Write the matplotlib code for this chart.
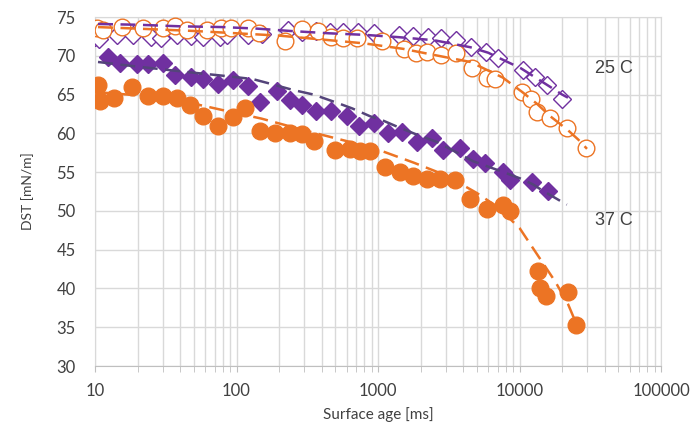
import matplotlib.pyplot as plt
import numpy as np
from matplotlib.ticker import LogLocator, FixedLocator, NullFormatter

# 25 C, open diamonds (purple)
age_d25 = [10.0, 10.7, 14.3, 18.6, 24.9, 29.3, 37.9, 47.7, 58.0, 76.3, 85.9, 120.6, 151,
           231, 290, 365, 456, 566, 720, 937, 1410, 1770, 2260, 2786, 3560, 4560,
           5810, 7070, 10600, 12900, 15700, 20100]
dst_d25 = [72.4, 72.2, 72.7, 72.7, 72.4, 72.3, 72.7, 72.6, 72.4, 72.4, 72.7, 72.7, 72.8,
           73.3, 73.1, 73.2, 73.1, 73.1, 73.1, 72.9, 72.7, 72.6, 72.4, 72.3, 72.0, 71.1,
           70.5, 69.7, 68.2, 67.3, 66.2, 64.4]
fit_age_d25 = [10.5, 20, 40, 80, 140, 240, 450, 800, 1400, 2500, 4500, 6000, 7600,
               10200, 14600, 17800, 20000, 22000]
fit_dst_d25 = [74.1, 74.0, 73.8, 73.7, 73.5, 73.2, 72.9, 72.7, 72.4, 72.0, 71.1, 70.4,
               69.5, 68.4, 66.6, 65.6, 65.0, 64.6]

# 25 C, open circles (orange)
age_c25 = [10.3, 11.4, 15.5, 21.8, 30.2, 36.8, 44.7, 61.8, 77.7, 91.3, 120.6, 144, 220,
           290, 375, 464, 566, 711, 1066, 1523, 1853, 2218, 2786, 3560, 4640, 5930,
           6750, 10470, 12100, 13340, 16470, 21700, 29500]
dst_c25 = [73.6, 73.3, 73.7, 73.6, 73.6, 73.8, 73.3, 73.3, 73.6, 73.6, 73.6, 72.9, 71.9,
           73.5, 73.2, 72.4, 72.3, 72.3, 71.9, 70.9, 70.4, 70.5, 70.1, 70.4, 68.4, 67.1,
           67.0, 65.3, 64.4, 62.7, 62.0, 60.7, 58.1]
fit_age_c25 = [10.5, 20, 50, 100, 200, 400, 800, 1500, 2500, 4500, 7600, 10500, 13300,
               16500, 21700, 26000, 30000]
fit_dst_c25 = [73.7, 73.5, 73.2, 72.9, 72.6, 72.1, 71.6, 70.9, 70.1, 69.2, 67.2, 65.3,
               63.8, 62.2, 60.5, 59.2, 58.0]

# 37 C, filled diamonds (purple)
age_d37 = [12.4, 15.0, 19.8, 23.7, 30.2, 36.8, 47.7, 58.0, 74.0, 94.5, 120.6, 146.6, 193,
           239, 290, 365, 465, 604, 734, 937, 1177, 1478, 1886, 2408, 2880, 3797, 4693,
           5705, 7645, 8570, 12250, 15900]
dst_d37 = [69.8, 69.1, 68.9, 68.9, 69.1, 67.5, 67.3, 67.0, 66.4, 66.9, 66.1, 64.1, 65.5,
           64.3, 63.7, 62.9, 62.9, 62.2, 61.0, 61.3, 60.1, 60.2, 58.9, 59.4, 57.9, 58.1,
           56.7, 56.2, 55.0, 54.0, 53.7, 52.5]
fit_age_d37 = [10.5, 20, 45, 83, 130, 165, 250, 350, 520, 660, 880, 1100, 1350, 1900,
               2600, 4700, 7700, 10400, 12500, 14600, 21600]
fit_dst_d37 = [69.2, 68.6, 67.9, 67.4, 67.0, 66.5, 65.6, 65.0, 63.9, 63.2, 62.2, 61.6,
               60.9, 59.8, 58.9, 56.4, 55.0, 54.1, 53.4, 52.6, 50.8]

# 37 C, filled circles (orange)
age_c37 = [10.5, 10.8, 13.6, 18.3, 23.7, 30.3, 37.9, 46.9, 57.9, 74.2, 94.5, 114.9, 146,
           187, 238, 290, 352, 496, 633, 744, 876, 1114, 1423, 1761, 2218, 2740, 3497,
           4460, 5880, 7630, 8550, 13600, 14000, 15500, 22000, 25100]
dst_c37 = [66.2, 64.2, 64.6, 66.0, 64.8, 64.8, 64.6, 63.7, 62.2, 61.0, 62.1, 63.3, 60.3,
           60.1, 60.1, 59.9, 59.0, 57.9, 58.0, 57.7, 57.7, 55.7, 55.0, 54.5, 54.1, 54.1,
           54.0, 51.5, 50.3, 50.8, 50.0, 42.3, 40.1, 39.0, 39.6, 35.3]
fit_age_c37 = [10.5, 20, 40, 60, 100, 150, 300, 600, 1000, 1800, 3000, 5000, 7000, 10000,
               14000, 18000, 22000, 25000]
fit_dst_c37 = [65.3, 64.9, 64.2, 63.5, 62.6, 61.9, 60.4, 59.0, 57.9, 56.2, 54.6, 52.3,
               50.5, 47.8, 43.8, 40.8, 38.0, 35.6]

purple = '#7030a0'
orange = '#ec7424'
dark_purple = '#54447a'
grid_col = '#d9d9d9'

fig = plt.figure(figsize=(6.94, 4.36), dpi=100)
ax = fig.add_axes([95 / 694, 1 - 366 / 436, 566 / 694, 349 / 436])

ax.plot(age_d25, dst_d25, 'D', ms=9, mfc='white', mec=purple, mew=1.0, ls='none', zorder=3)
ax.plot(age_c25, dst_c25, 'o', ms=12, mfc='white', mec=orange, mew=1.0, ls='none', zorder=3)
ax.plot(age_d37, dst_d37, 'D', ms=9.5, mfc=purple, mec=purple, ls='none', zorder=3)
ax.plot(age_c37, dst_c37, 'o', ms=12, mfc=orange, mec=orange, ls='none', zorder=3)

ax.plot(fit_age_d25, fit_dst_d25, color=purple, lw=1.8, dashes=(6, 3), zorder=4)
ax.plot(fit_age_c25, fit_dst_c25, color=orange, lw=1.8, dashes=(6, 3), zorder=4)
ax.plot(fit_age_d37, fit_dst_d37, color=dark_purple, lw=1.8, dashes=(6, 3), zorder=4)
ax.plot(fit_age_c37, fit_dst_c37, color=orange, lw=1.8, dashes=(6, 3), zorder=4)

ax.set_xscale('log')
ax.set_xlim(10, 100000)
ax.set_ylim(30, 75)
ax.xaxis.set_minor_locator(LogLocator(base=10, subs=np.arange(2, 10), numticks=20))
ax.xaxis.set_minor_formatter(NullFormatter())
ax.set_xticks([10, 100, 1000, 10000, 100000])
ax.set_xticklabels(['10', '100', '1000', '10000', '100000'])
ax.yaxis.set_major_locator(FixedLocator(np.arange(30, 76, 5)))

ax.grid(True, which='major', color=grid_col, lw=1.0)
ax.grid(True, which='minor', axis='x', color=grid_col, lw=1.0)
ax.set_axisbelow(True)
for s in ax.spines.values():
    s.set_color(grid_col)
ax.spines['bottom'].set_color('#bfbfbf')

tick_font = 'Lato'
ax.tick_params(axis='x', which='both', direction='out', length=4, color='#bfbfbf',
               labelsize=12, labelcolor='#404040', pad=8)
ax.tick_params(axis='y', length=0, labelsize=12, labelcolor='#404040', pad=14)
for lab in ax.get_xticklabels() + ax.get_yticklabels():
    lab.set_family(tick_font)

ax.set_xlabel('Surface age [ms]', fontsize=11, color='#404040', family=tick_font, labelpad=6)
ax.set_ylabel('DST [mN/m]', fontsize=10, color='#404040', family=tick_font, labelpad=16)

ax.text(46600, 68.4, '25 C', fontsize=13, color='#404040', family='Liberation Sans',
        ha='center', va='center')
ax.text(46600, 48.8, '37 C', fontsize=13, color='#404040', family='Liberation Sans',
        ha='center', va='center')

fig.savefig('out.png', dpi=100)
